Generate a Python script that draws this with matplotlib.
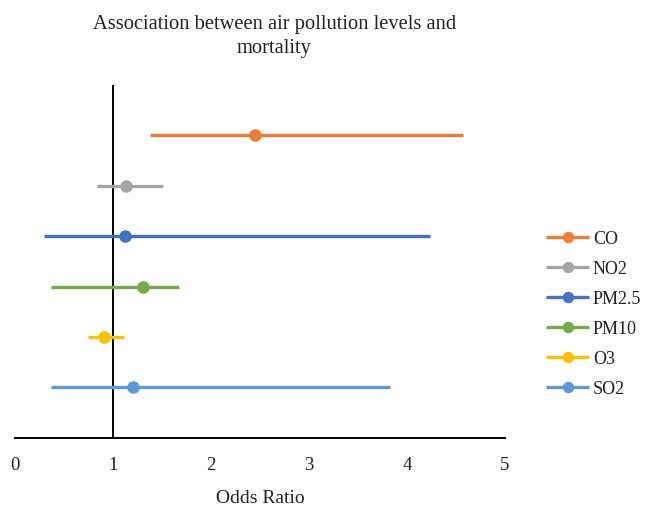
import matplotlib
matplotlib.use("Agg")
import matplotlib.pyplot as plt

# odds ratio with lower / upper bounds
pollutants = ["CO", "NO2", "PM2.5", "PM10", "O3", "SO2"]
odds_ratio = [2.45, 1.13, 1.12, 1.31, 0.91, 1.20]
lower = [1.38, 0.84, 0.30, 0.37, 0.74, 0.37]
upper = [4.57, 1.51, 4.24, 1.67, 1.11, 3.83]
row_pos = [6, 5, 4, 3, 2, 1]
colors = ["#ED7D31", "#A5A5A5", "#4472C4", "#70AD47", "#FFC000", "#5B9BD5"]
x_ticks = [0, 1, 2, 3, 4, 5]

plt.rcParams['font.family'] = ['Liberation Serif', 'DejaVu Serif']

fig = plt.figure(figsize=(6.53, 5.11), dpi=100)
ax = fig.add_axes([0.023, 0.143, 0.750, 0.691])

for name, orr, lo, hi, y, c in zip(pollutants, odds_ratio, lower, upper, row_pos, colors):
  ax.plot([lo, orr, hi], [y, y, y], color=c, lw=2.4, marker='o', markersize=8,
          markevery=[1], label=name, solid_capstyle='butt')

ax.axvline(1, color='black', lw=1.4, zorder=0)

ax.set_xlim(0, 5)
ax.set_ylim(0, 7)
ax.set_xticks(x_ticks)
ax.set_yticks([])
ax.tick_params(axis='x', length=0, labelsize=13.5, pad=14, colors='#222222')
for s in ['top', 'right', 'left']:
  ax.spines[s].set_visible(False)
ax.spines['bottom'].set_linewidth(1.4)
ax.set_xlabel('Odds Ratio', fontsize=14, labelpad=11, color='#222222')

fig.text(0.42, 0.97, 'Association between air pollution levels and\nmortality',
         ha='center', va='top', fontsize=14.8, color='#222222', linespacing=1.3)

fig.legend(loc='upper left', bbox_to_anchor=(0.825, 0.563), frameon=False,
           fontsize=13, handlelength=2.4, handletextpad=0.2, labelspacing=0.72,
           borderaxespad=0, labelcolor='#222222', markerscale=0.9)

fig.savefig('out.png', dpi=100)
